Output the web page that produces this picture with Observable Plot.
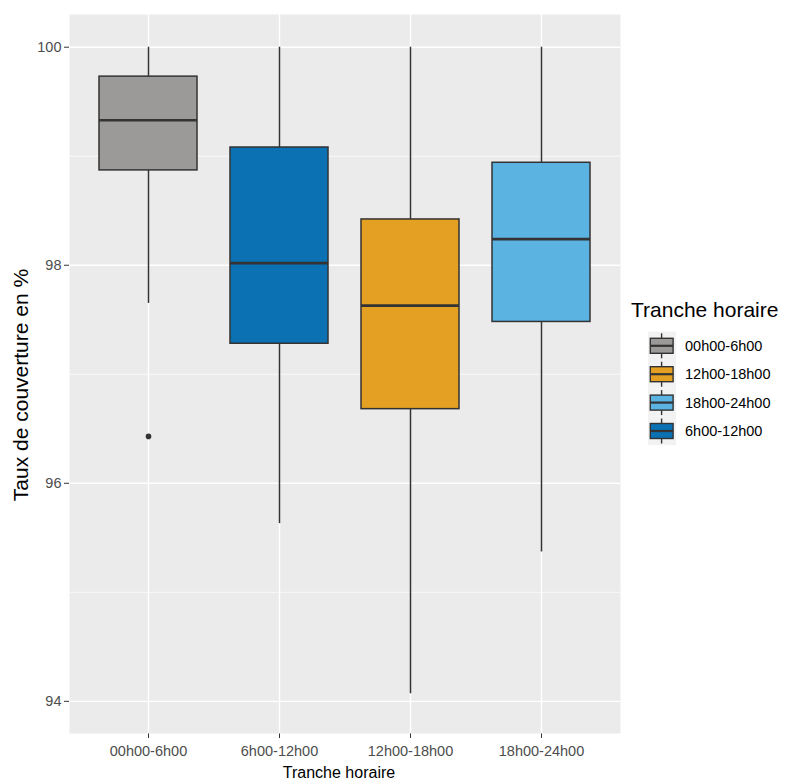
<!DOCTYPE html>
<html>
<head>
<meta charset="utf-8">
<script src="https://cdn.jsdelivr.net/npm/d3@7"></script>
<script src="https://cdn.jsdelivr.net/npm/@observablehq/plot@0.6"></script>
<style>
  html, body { margin: 0; padding: 0; background: white; }
  #wrap { position: relative; width: 788px; height: 780px; font-family: "Liberation Sans", Arial, sans-serif; }
  #wrap svg.plot-main [aria-label^="x-axis"] text,
  #wrap svg.plot-main [aria-label^="y-axis"] text { fill: #4D4D4D; }
</style>
</head>
<body>
<div id="wrap"></div>
<script>
// ---- Data ----
const categories   = ["00h00-6h00", "6h00-12h00", "12h00-18h00", "18h00-24h00"];
const whiskerLow   = [97.65, 95.63, 94.07, 95.37];
const q1           = [98.87, 97.28, 96.68, 97.48];
const median       = [99.33, 98.02, 97.63, 98.24];
const q3           = [99.73, 99.08, 98.42, 98.94];
const whiskerHigh  = [100, 100, 100, 100];
const outlierCategory = ["00h00-6h00"];
const outlierValue    = [96.43];
const fillColors   = ["#9B9A99", "#0B71B3", "#E4A022", "#5BB3E2"];
const legendOrder  = ["00h00-6h00", "12h00-18h00", "18h00-24h00", "6h00-12h00"];
const yMajorTicks  = [94, 96, 98, 100];
const yMinorTicks  = [95, 97, 99];
const xTitle = "Tranche horaire";
const yTitle = "Taux de couverture en %";
const legendTitle = "Tranche horaire";

// ---- Build table ----
const boxes = categories.map((c, i) => ({
  cat: c, lo: whiskerLow[i], q1: q1[i], med: median[i], q3: q3[i], hi: whiskerHigh[i]
}));
const outliers = outlierCategory.map((c, i) => ({cat: c, v: outlierValue[i]}));
const colorOf = new Map(categories.map((c, i) => [c, fillColors[i]]));

const W = 788, H = 780;
const chart = Plot.plot({
  width: W, height: H,
  marginLeft: 69, marginRight: 168, marginTop: 14, marginBottom: 47,
  style: {fontFamily: '"Liberation Sans", Arial, sans-serif', fontSize: "14.5px", color: "#333333", background: "white"},
  x: {type: "band", domain: categories, paddingInner: 0.25, paddingOuter: 0.225, label: null, tickSize: 5, tickPadding: 7},
  y: {domain: [93.705, 100.3], ticks: yMajorTicks, tickFormat: d => String(d), label: null, tickSize: 5, tickPadding: 3},
  color: {type: "ordinal", domain: categories, range: fillColors},
  marks: [
    Plot.frame({fill: "#EBEBEB", stroke: "none"}),
    Plot.ruleY(yMinorTicks, {stroke: "white", strokeWidth: 0.7}),
    Plot.ruleY(yMajorTicks, {stroke: "white", strokeWidth: 1.4}),
    Plot.ruleX(categories, {x: d => d, stroke: "white", strokeWidth: 1.4}),
    Plot.ruleX(boxes, {x: "cat", y1: "lo", y2: "q1", stroke: "#333333", strokeWidth: 1.5}),
    Plot.ruleX(boxes, {x: "cat", y1: "q3", y2: "hi", stroke: "#333333", strokeWidth: 1.5}),
    Plot.barY(boxes, {x: "cat", y1: "q1", y2: "q3", fill: "cat", stroke: "#333333", strokeWidth: 1.5}),
    Plot.tickY(boxes, {x: "cat", y: "med", stroke: "#333333", strokeWidth: 2.7}),
    Plot.dot(outliers, {x: "cat", y: "v", r: 2.8, fill: "#333333", stroke: "none"})
  ]
});
chart.classList.add("plot-main");
chart.style.display = "block";
const wrap = document.getElementById("wrap");
wrap.appendChild(chart);

// ---- Overlay: axis titles and legend ----
const ov = d3.select(wrap).append("svg")
  .attr("width", W).attr("height", H)
  .style("position", "absolute").style("left", "0px").style("top", "0px")
  .style("pointer-events", "none")
  .attr("font-family", '"Liberation Sans", Arial, sans-serif');

ov.append("text")
  .attr("transform", "translate(28,385) rotate(-90)")
  .attr("text-anchor", "middle").attr("font-size", 21).attr("fill", "#000")
  .text(yTitle);

ov.append("text")
  .attr("x", 339).attr("y", 778)
  .attr("text-anchor", "middle").attr("font-size", 16).attr("fill", "#000")
  .text(xTitle);

const lg = ov.append("g");
lg.append("text").attr("x", 631).attr("y", 316.5)
  .attr("font-size", 21).attr("fill", "#000").text(legendTitle);

const keyStep = 28.4, keyTop = 331.6;
legendOrder.forEach((c, i) => {
  const cy = keyTop + keyStep * i + keyStep / 2;
  const g = lg.append("g");
  g.append("rect").attr("x", 648).attr("y", keyTop + keyStep * i).attr("width", 28).attr("height", keyStep)
    .attr("fill", "#F2F2F2");
  g.append("line").attr("x1", 661.6).attr("x2", 661.6).attr("y1", cy - 12.5).attr("y2", cy + 12.5)
    .attr("stroke", "#333333").attr("stroke-width", 1.4);
  g.append("rect").attr("x", 650.3).attr("y", cy - 7.5).attr("width", 22.8).attr("height", 15)
    .attr("fill", colorOf.get(c)).attr("stroke", "#333333").attr("stroke-width", 1.4);
  g.append("line").attr("x1", 650.3).attr("x2", 673.1).attr("y1", cy).attr("y2", cy)
    .attr("stroke", "#333333").attr("stroke-width", 2.2);
  g.append("text").attr("x", 685).attr("y", cy).attr("dy", "0.35em")
    .attr("font-size", 14.5).attr("fill", "#000").text(c);
});
</script>
</body>
</html>
